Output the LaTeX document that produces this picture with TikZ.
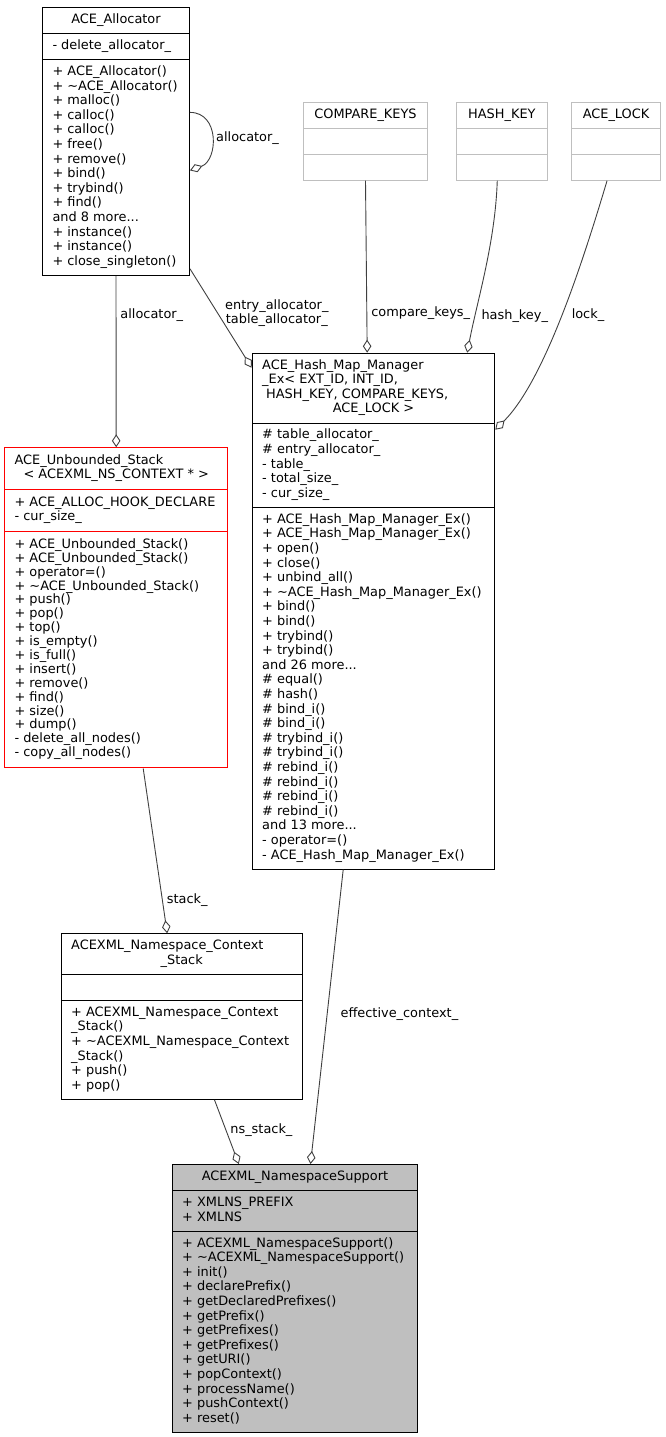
\documentclass[tikz,border=0pt]{standalone}
\usepackage{fontspec}
\setmainfont{DejaVu Sans}
\usetikzlibrary{shapes.multipart, positioning, arrows.meta}
\definecolor{edgegray}{HTML}{404040}
\definecolor{tmplgray}{HTML}{BFBFBF}
\definecolor{stackred}{HTML}{FF0000}
\newcommand{\rows}[2][1]{{\renewcommand{\arraystretch}{#1}\begin{tabular}{@{}l@{}}#2\end{tabular}}}
\tikzset{
    cls/.style={
        draw,
        line width=1pt,
        rectangle split,
        rectangle split parts=3,
        rectangle split part align={center,left,left},
        rectangle split empty part height=14.6pt,
        rectangle split empty part depth=0pt,
        inner xsep=10pt,
        inner ysep=5.2pt,
        anchor=north west,
        font=\fontsize{12.9}{14.6}\selectfont,
    },
    tmpl/.style={cls, draw=tmplgray},
    agg/.style={draw=edgegray, line width=0.9pt, -{Diamond[open, length=13pt, width=8.5pt]}},
    lbl/.style={font=\fontsize{12.9}{14.6}\selectfont, inner xsep=4pt, inner ysep=2pt, anchor=west},
}
\begin{document}
\fontsize{12.9}{14.6}\selectfont
\begin{tikzpicture}[x=1pt, y=-1pt]
        \useasboundingbox (0,0) rectangle (665,1437);
        \node[cls, minimum width=147pt] (alloc) at (42,7) {\rows{ACE\_Allocator}
        \nodepart{second} \rows{- delete\_allocator\_}
        \nodepart{third} \rows{+ ACE\_Allocator()\\+ \textasciitilde ACE\_Allocator()\\+ malloc()\\+ calloc()\\+ calloc()\\+ free()\\+ remove()\\+ bind()\\+ trybind()\\+ find()\\and 8 more...\\+ instance()\\+ instance()\\+ close\_singleton()}};
        \node[tmpl, minimum width=123.4pt] (ckeys) at (303.3,101.7) {\rows{COMPARE\_KEYS}
        \nodepart{second}
        \nodepart{third}};
        \node[tmpl, minimum width=90.7pt, right=28.3pt of ckeys] (hkey) {\rows{HASH\_KEY}
        \nodepart{second}
        \nodepart{third}};
        \node[tmpl, minimum width=89.7pt, right=23pt of hkey] (lock) {\rows{ACE\_LOCK}
        \nodepart{second}
        \nodepart{third}};
        \node[cls, minimum width=242.6pt] (hash) at (251.7,352.7) {\rows{ACE\_Hash\_Map\_Manager\\\_Ex< EXT\_ID, INT\_ID,\\\hspace{4pt}HASH\_KEY, COMPARE\_KEYS,\\\makebox[222.6pt]{ACE\_LOCK >}}
        \nodepart{second} \rows{\# table\_allocator\_\\\# entry\_allocator\_\\- table\_\\- total\_size\_\\- cur\_size\_}
        \nodepart{third} \rows{+ ACE\_Hash\_Map\_Manager\_Ex()\\+ ACE\_Hash\_Map\_Manager\_Ex()\\+ open()\\+ close()\\+ unbind\_all()\\+ \textasciitilde ACE\_Hash\_Map\_Manager\_Ex()\\+ bind()\\+ bind()\\+ trybind()\\+ trybind()\\and 26 more...\\\# equal()\\\# hash()\\\# bind\_i()\\\# bind\_i()\\\# trybind\_i()\\\# trybind\_i()\\\# rebind\_i()\\\# rebind\_i()\\\# rebind\_i()\\\# rebind\_i()\\and 13 more...\\- operator=()\\- ACE\_Hash\_Map\_Manager\_Ex()}};
        \node[cls, draw=stackred, line width=1.1pt, minimum width=223.3pt, inner ysep=6.6pt] (unb) at (4,447.3) {\rows[0.9315]{ACE\_Unbounded\_Stack\\\makebox[203.3pt]{< ACEXML\_NS\_CONTEXT * >}}
        \nodepart{second} \rows[0.9315]{+ ACE\_ALLOC\_HOOK\_DECLARE\\- cur\_size\_}
        \nodepart{third} \rows[0.9315]{+ ACE\_Unbounded\_Stack()\\+ ACE\_Unbounded\_Stack()\\+ operator=()\\+ \textasciitilde ACE\_Unbounded\_Stack()\\+ push()\\+ pop()\\+ top()\\+ is\_empty()\\+ is\_full()\\+ insert()\\+ remove()\\+ find()\\+ size()\\+ dump()\\- delete\_all\_nodes()\\- copy\_all\_nodes()}};
        \node[cls, minimum width=241pt] (ctx) at (60.7,933.3) {\rows{ACEXML\_Namespace\_Context\\\makebox[221pt]{\_Stack}}
        \nodepart{second}
        \nodepart{third} \rows{+ ACEXML\_Namespace\_Context\\\_Stack()\\+ \textasciitilde ACEXML\_Namespace\_Context\\\_Stack()\\+ push()\\+ pop()}};
        \node[cls, fill=tmplgray, minimum width=245.6pt] (sup) at (171.7,1164) {\rows{ACEXML\_NamespaceSupport}
        \nodepart{second} \rows{+ XMLNS\_PREFIX\\+ XMLNS}
        \nodepart{third} \rows{+ ACEXML\_NamespaceSupport()\\+ \textasciitilde ACEXML\_NamespaceSupport()\\+ init()\\+ declarePrefix()\\+ getDeclaredPrefixes()\\+ getPrefix()\\+ getPrefixes()\\+ getPrefixes()\\+ getURI()\\+ popContext()\\+ processName()\\+ pushContext()\\+ reset()}};
        \draw[agg] ([yshift=29pt]alloc.east) .. controls +(30,0) and +(28,-10) .. ([yshift=-29pt]alloc.east) node[lbl, pos=0.5] {allocator\_};
        \draw[agg] (alloc.south) -- (unb.north) node[lbl, pos=0.23] {allocator\_};
        \draw[agg] ([yshift=7pt]alloc.south east) -- ([yshift=-15pt]hash.north west) node[lbl, pos=0.45, align=center, xshift=3pt] {entry\_allocator\_\\table\_allocator\_};
        \draw[agg] (ckeys.south) -- ([xshift=-6.3pt]hash.north) node[lbl, pos=0.77] {compare\_keys\_};
        \draw[agg] ([xshift=-4.6pt]hkey.south) .. controls +(-2,62) and +(10,-52) .. ([xshift=93.7pt]hash.north) node[lbl, pos=0.77, xshift=2pt] {hash\_key\_};
        \draw[agg] ([xshift=-9pt]lock.south) .. controls +(-23,77) and +(50,-50) .. ([yshift=-77pt]hash.north east) node[lbl, pos=0.5, xshift=6pt] {lock\_};
        \draw[agg] ([xshift=27pt]unb.south) -- ([xshift=-14.5pt]ctx.north) node[lbl, pos=0.8] {stack\_};
        \draw[agg] ([xshift=-30.3pt]hash.south) -- ([xshift=15.5pt]sup.north) node[lbl, pos=0.49, xshift=9pt] {effective\_context\_};
        \draw[agg] ([xshift=32.8pt]ctx.south) -- ([xshift=-56.2pt]sup.north) node[lbl, pos=0.47] {ns\_stack\_};
\end{tikzpicture}
\end{document}
